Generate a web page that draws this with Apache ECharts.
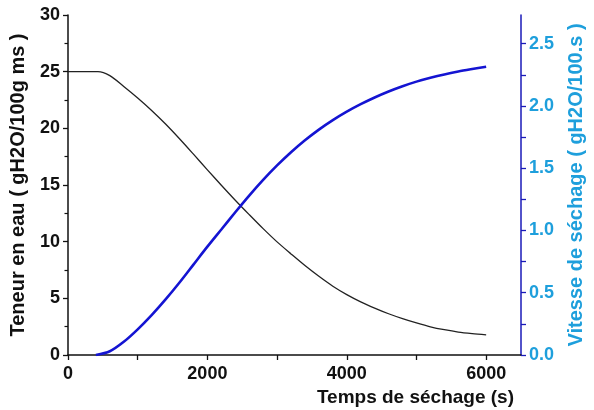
<!DOCTYPE html>
<html>
<head>
<meta charset="utf-8">
<script src="https://cdn.jsdelivr.net/npm/echarts@6/dist/echarts.min.js"></script>
<style>html,body{margin:0;padding:0;background:#fff}#c{width:594px;height:410px}</style>
</head>
<body>
<div id="c"></div>
<script>
// Teneur en eau (left axis)
const timeTeneur = [0, 200, 430, 600, 800, 1000, 1200, 1400, 1600, 1800, 2000, 2200, 2400, 2600, 2800, 3000, 3200, 3400, 3600, 3800, 4000, 4200, 4400, 4600, 4800, 5000, 5200, 5400, 5600, 5800, 6000];
const teneur = [25, 25, 25, 24.65, 23.7, 22.68, 21.58, 20.38, 19.08, 17.72, 16.34, 14.98, 13.66, 12.39, 11.15, 9.98, 8.92, 7.89, 6.94, 6.07, 5.33, 4.69, 4.14, 3.64, 3.21, 2.83, 2.49, 2.23, 2.02, 1.88, 1.77];
// Vitesse de séchage (right axis)
const timeVitesse = [400, 600, 800, 1000, 1200, 1400, 1600, 1800, 2000, 2200, 2400, 2600, 2800, 3000, 3200, 3400, 3600, 3800, 4000, 4200, 4400, 4600, 4800, 5000, 5200, 5400, 5600, 5800, 6000];
const vitesse = [0, 0.03, 0.106, 0.206, 0.32, 0.446, 0.582, 0.726, 0.87, 1.008, 1.146, 1.28, 1.406, 1.522, 1.628, 1.724, 1.81, 1.886, 1.954, 2.014, 2.068, 2.116, 2.158, 2.195, 2.226, 2.253, 2.276, 2.296, 2.315];
// Tick labels
const xLabels = [0, 2000, 4000, 6000];
const xTicks = [0, 1000, 2000, 3000, 4000, 5000, 6000];
const leftLabels = [0, 5, 10, 15, 20, 25, 30];
const rightLabels = [0, 0.5, 1.0, 1.5, 2.0, 2.5];
const rightTicks = [0, 0.25, 0.5, 0.75, 1.0, 1.25, 1.5, 1.75, 2.0, 2.25, 2.5];

const FONT = 'Liberation Sans';
const LIGHTBLUE = '#1e9fdc';
const chart = echarts.init(document.getElementById('c'), null, {renderer: 'canvas'});
chart.setOption({
  backgroundColor: '#fff',
  animation: false,
  grid: {left: 68, right: 67, top: 15, bottom: 55, containLabel: false},
  xAxis: {
    type: 'value', min: 0, max: 6500,
    name: 'Temps de séchage (s)', nameLocation: 'end', nameGap: -7,
    nameTextStyle: {fontFamily: FONT, fontWeight: 'bold', fontSize: 19, color: '#111', align: 'right', verticalAlign: 'top', padding: [33, 0, 0, 0]},
    axisLine: {show: true, lineStyle: {color: '#111', width: 1.5}},
    axisTick: {show: true, inside: false, length: 5, customValues: xTicks, lineStyle: {color: '#111', width: 1.3}},
    axisLabel: {customValues: xLabels, formatter: v => String(v), fontFamily: FONT, fontWeight: 'bold', fontSize: 18, color: '#111', margin: 10},
    splitLine: {show: false}
  },
  yAxis: [{
    type: 'value', min: 0, max: 30, interval: 5, position: 'left',
    name: 'Teneur en eau ( gH2O/100g ms )', nameLocation: 'middle', nameGap: 40, nameRotate: 90,
    nameTextStyle: {fontFamily: FONT, fontWeight: 'bold', fontSize: 20, color: '#111'},
    axisLine: {show: true, lineStyle: {color: '#111', width: 1.5}},
    axisTick: {show: true, length: 5, lineStyle: {color: '#111', width: 1.3}},
    minorTick: {show: true, splitNumber: 2, length: 3.5, lineStyle: {color: '#111', width: 1.2}},
    axisLabel: {customValues: leftLabels, formatter: v => String(v), fontFamily: FONT, fontWeight: 'bold', fontSize: 18, color: '#111', margin: 8},
    splitLine: {show: false}
  }, {
    type: 'value', min: 0, max: 2.73, position: 'right',
    name: 'Vitesse de séchage ( gH2O/100.s )', nameLocation: 'middle', nameGap: 45, nameRotate: 90,
    nameTextStyle: {fontFamily: FONT, fontWeight: 'bold', fontSize: 20, color: LIGHTBLUE},
    axisLine: {show: true, lineStyle: {color: '#1a1ab8', width: 1.5}},
    axisTick: {show: true, length: 5, customValues: rightTicks, lineStyle: {color: '#1a1ab8', width: 1.3}},
    axisLabel: {customValues: rightLabels, formatter: v => v.toFixed(1), fontFamily: FONT, fontWeight: 'bold', fontSize: 18, color: LIGHTBLUE, margin: 8},
    splitLine: {show: false}
  }],
  series: [{
    type: 'line', yAxisIndex: 0, showSymbol: false, smooth: 0.3,
    data: timeTeneur.map((t, i) => [t, teneur[i]]),
    lineStyle: {color: '#222', width: 1.3}
  }, {
    type: 'line', yAxisIndex: 1, showSymbol: false, smooth: 0.3,
    data: timeVitesse.map((t, i) => [t, vitesse[i]]),
    lineStyle: {color: '#1414d2', width: 2.6}
  }]
});
</script>
</body>
</html>
